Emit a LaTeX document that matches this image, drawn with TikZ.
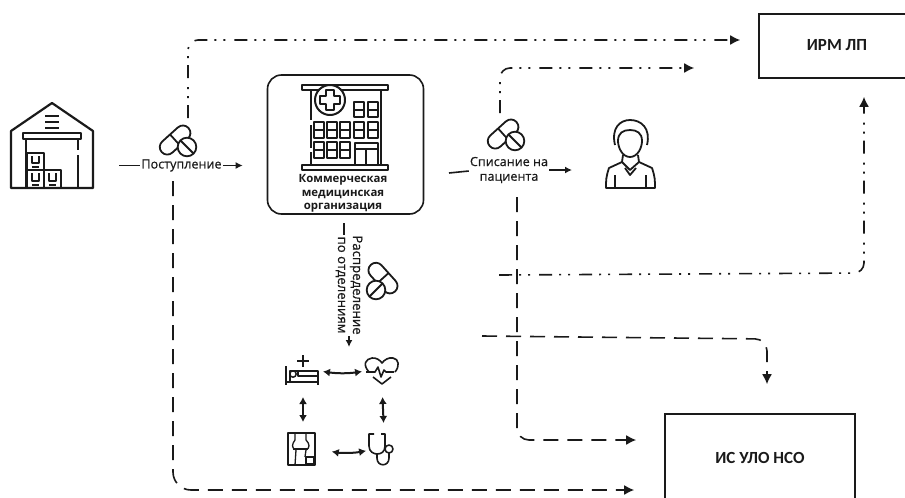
\documentclass[tikz,border=0pt]{standalone}
\usepackage{fontspec}
\setmainfont{Open Sans}
\newfontfamily\boxfont{Carlito}
\newfontfamily\medfont[FakeBold=0.6]{Open Sans}
\usetikzlibrary{arrows.meta}
\definecolor{ink}{HTML}{1A1A1A}
\tikzset{
  x=1pt,y=-1pt,
  every path/.style={line cap=butt},
  icon/.style={draw=ink,line width=1.8pt,line join=round},
  slot/.style={inner sep=0pt,outer sep=0pt},
  lbl/.style={inner sep=1pt,align=center,text=ink,font=\medfont\fontsize{12.6}{14.7}\selectfont},
  blbl/.style={inner sep=1pt,align=center,text=ink,font=\bfseries\fontsize{11.4}{13.4}\selectfont},
  sysfont/.style={text=ink,font=\boxfont\bfseries\fontsize{17}{19}\selectfont,inner sep=0pt},
  sysbox/.style={draw=ink,line width=1.6pt,inner sep=0pt},
  ddot/.style={draw=ink,line width=1.6pt,rounded corners=10pt,dash pattern=on 13pt off 7pt on 2pt off 7pt on 2pt off 9pt},
  dsh/.style={draw=ink,line width=1.6pt,rounded corners=12pt,dash pattern=on 15pt off 9pt},
  solid line/.style={draw=ink,line width=1.6pt},
  tip/.style={-{Latex[length=10pt,width=10pt]}},
  smalltip/.style={-{Latex[length=7pt,width=7pt]}},
  both/.style={{Latex[length=7pt,width=8pt]}-{Latex[length=7pt,width=8pt]},draw=ink,line width=2pt},
  pics/pill/.style={code={
    \draw[icon,rotate=42,rounded corners=7.4pt] (-21,-11.5) rectangle (15,3.5);
    \draw[icon,rotate=42] (-3,-11.5) -- (-3,3.5);
    \draw[icon,fill=white] (7,6) circle (9.3);
    \draw[icon] (0.5,-0.5) -- (13.5,12.5);
  }}
}
\begin{document}
\begin{tikzpicture}
\useasboundingbox (0,0) rectangle (905,498);

% ---------- nodes
\node[slot,minimum width=84pt,minimum height=86pt] (wh) at (52,146) {};
\node[draw=ink,line width=1.6pt,rounded corners=14pt,minimum width=156pt,minimum height=139pt,inner sep=0pt] (cmo) at (345.5,144.5) {};
\node[blbl,anchor=north] (cmotext) at (343,173.5) {Коммерческая\\медицинская\\организация};
\node[sysbox,minimum width=170pt,minimum height=64pt] (irm) at (844,46) {};
\node[sysfont] (irmtext) at (837,45) {ИРМ ЛП};
\node[sysbox,minimum width=190pt,minimum height=110pt] (ulo) at (760,469) {};
\node[sysfont] (ulotext) at (760,458) {ИС УЛО НСО};

\node[lbl] (post) at (181.5,165.5) {Поступление};
\node[lbl] (spis) at (509,170) {Списание на\\пациента};
\node[lbl,rotate=-90,font=\medfont\fontsize{13.2}{15}\selectfont] (rasp) at (349,285) {Распределение\\по отделениям};

\node[slot,minimum size=38pt] (pillA) at (180,141) {};
\node[slot,minimum size=38pt] (pillB) at (508,135) {};
\node[slot,minimum size=38pt] (pillC) at (382,283) {};
\node[slot,minimum width=40pt,minimum height=52pt] (person) at (630,154) {};
\node[slot,minimum width=32pt,minimum height=30pt] (bed) at (303,371) {};
\node[slot,minimum width=32pt,minimum height=28pt] (heart) at (382,371) {};
\node[slot,minimum width=28pt,minimum height=32pt] (xray) at (303,449) {};
\node[slot,minimum width=26pt,minimum height=34pt] (steth) at (384,450) {};

% ---------- warehouse icon
\begin{scope}[icon,line width=2.2pt]
\draw (11,188) -- (11,131) -- (52,103) -- (93,131) -- (93,188) -- cycle;
\draw (23,133) rectangle (81,139);
\draw (26,139) -- (26,188);
\draw (78,139) -- (78,150) (78,155) -- (78,188);
\draw (45,116) -- (59,116) (45,122) -- (59,122) (45,128) -- (59,128);
\draw[line width=1.8pt] (27,153) rectangle (44,170);
\draw[line width=1.8pt] (27,170) rectangle (44,188);
\draw[line width=1.8pt] (44,170) rectangle (61,188);
\draw[line width=1.3pt] (32,156) -- (32,163) -- (39,163) -- (39,156)
      (32,173) -- (32,181) -- (39,181) -- (39,173)
      (49,173) -- (49,181) -- (56,181) -- (56,173)
      (32,167) -- (39,167) (32,185) -- (39,185) (49,185) -- (56,185);
\end{scope}

% ---------- hospital icon
\begin{scope}[icon,line width=2pt]
\draw (302,85) rectangle (388,90);
\draw (311,90) -- (311,120) (311,125) -- (311,148) (311,152) -- (311,165);
\draw (381,90) -- (381,165);
\draw[fill=white] (330,100) circle (15);
\draw (326,90) -- (334,90) -- (334,96) -- (340,96) -- (340,104) -- (334,104) -- (334,110) -- (326,110) -- (326,104) -- (320,104) -- (320,96) -- (326,96) -- cycle;
\foreach \xx in {353.5,368} {
  \draw (\xx,102) rectangle ++(10,15);
  \draw (\xx,109.5) -- ++(10,0);
}
\foreach \xx in {313.5,326.5,339.5,353.5,368} {
  \draw (\xx,122) rectangle ++(10,16);
  \draw (\xx,130) -- ++(10,0);
}
\foreach \xx in {313.5,326.5,339.5} {
  \draw (\xx,142) rectangle ++(10,16);
  \draw (\xx,150) -- ++(10,0);
}
\draw (355,164) -- (355,143) -- (378,143) -- (378,164) (355,149) -- (378,149) (366,149) -- (366,164);
\draw (302,165) rectangle (388,170);
\end{scope}

% ---------- pills
\pic at (pillA) {pill};
\pic at (pillB) {pill};
\pic[rotate=-90] at (pillC) {pill};

% ---------- person
\begin{scope}[icon]
\draw (630,157) .. controls (622,157) and (618,147) .. (618,141) .. controls (618,133) and (623,130) .. (630,130) .. controls (637,130) and (642,133) .. (642,141) .. controls (642,147) and (638,157) .. (630,157) -- cycle;
\draw (615,145) .. controls (611,128) and (620,120) .. (630,120) .. controls (641,120) and (651,128) .. (647,145);
\draw (623,155) -- (622,162) -- (609,168) .. controls (606,177) and (606,180) .. (606,188) -- (655,188) .. controls (655,180) and (655,177) .. (652,168) -- (639,162) -- (638,155);
\draw (622,162) -- (630,170) -- (639,162);
\draw (625,168) -- (630,175) -- (636,168);
\draw (615,175) -- (615,188) (646,175) -- (646,188);
\end{scope}

% ---------- bed
\begin{scope}[icon,line width=1.5pt]
\draw (286,366) -- (286,385);
\draw (286,382) -- (318,382) -- (318,385);
\draw (290,382) -- (290,371) -- (318,371) -- (318,382);
\draw (293,374) circle (3.2);
\draw (298,371) -- (298,376) -- (318,376);
\draw[line width=2pt] (297,361) -- (309,361) (303,355) -- (303,367);
\end{scope}

% ---------- heart
\begin{scope}[icon,line width=1.6pt]
\draw (369,372) .. controls (362,364) and (366,359) .. (372,358) .. controls (376,357.5) and (380,360) .. (382,363) .. controls (384,360) and (389,357) .. (393,358) .. controls (399,359) and (400,366) .. (395,372);
\draw (366,372) -- (375,372) -- (378,367) -- (381,377) -- (384,370) -- (386,372) -- (394,372);
\draw (373,377) -- (382,384) -- (391,377);
\end{scope}

% ---------- x-ray
\begin{scope}[icon,line width=1.3pt]
\draw (288,433) rectangle (315,465);
\draw (295,433) -- (295,440) .. controls (292,444) and (291,448) .. (296,450) -- (295,465)
      (306,433) -- (306,440) .. controls (310,444) and (310,448) .. (306,450) -- (305,457);
\draw (293,449) -- (308,449);
\draw (306,457) rectangle (314,464);
\end{scope}

% ---------- stethoscope
\begin{scope}[icon,line width=1.6pt]
\draw (374,434) -- (369,434) -- (369,446) .. controls (369,452) and (374,454) .. (377,454) .. controls (381,454) and (385,452) .. (385,446) -- (385,434) -- (381,434);
\draw (377,454) -- (377,458) .. controls (377,467) and (389,467) .. (389,458) -- (389,453);
\draw (389,449) circle (4);
\end{scope}

% ---------- connectors
\coordinate (a0) at (188,118);
\coordinate (a1) at (188,40);
\draw[ddot,tip] (a0) -- (a1) -- (a1 -| irm.west) [shorten >=18pt];

\draw[solid line] (wh.east |- post) [shorten <=25pt] -- (post.west);
\draw[solid line,smalltip] (post.east) -- (cmo.west |- post) [shorten >=24pt];

\coordinate (b0) at (173,181);
\coordinate (b1) at (173,490);
\draw[dsh,rounded corners=18pt,tip] (b0) -- (b1) -- (b1 -| ulo.west) [shorten >=30pt];

\coordinate (c0) at (500,113);
\coordinate (c1) at (500,68);
\draw[ddot,tip] (c0) -- (c1) -- (c1 -| irm.west) [shorten >=64pt];

\draw[solid line] (449,173) -- (spis.west |- 0,171);
\draw[solid line,smalltip] (spis.east |- 0,170) -- (person.west |- 0,170) [shorten >=38pt];

\coordinate (d0) at (517,197);
\coordinate (d1) at (517,440);
\draw[dsh,tip] (d0) -- (d1) -- (d1 -| ulo.west) [shorten >=28pt];

\coordinate (e0) at (499,275);
\coordinate (e1) at (864,273);
\draw[ddot,tip] (e0) -- (e1) -- (e1 |- irm.south) [shorten >=18pt];

\coordinate (f0) at (482,336);
\coordinate (f1) at (767,339);
\draw[dsh,tip] (f0) -- (f1) -- (f1 |- ulo.north) [shorten >=29pt];

\draw[solid line] (344,223) -- (344,235);
\coordinate (g1) at (349,336);
\draw[solid line,smalltip] (g1) -- (349,347);

% ---------- between departments
\draw[both,shorten <=4pt,shorten >=4pt] (bed.east) to[out=-8,in=188] (heart.west);
\draw[both,shorten <=11pt,shorten >=11pt] (bed.south) -- (xray.north);
\draw[both,shorten <=12pt,shorten >=10pt] (heart.south) -- (steth.north);
\draw[both,shorten <=15pt,shorten >=5pt] (xray.east) to[out=-10,in=190] (steth.west);
\end{tikzpicture}
\end{document}
